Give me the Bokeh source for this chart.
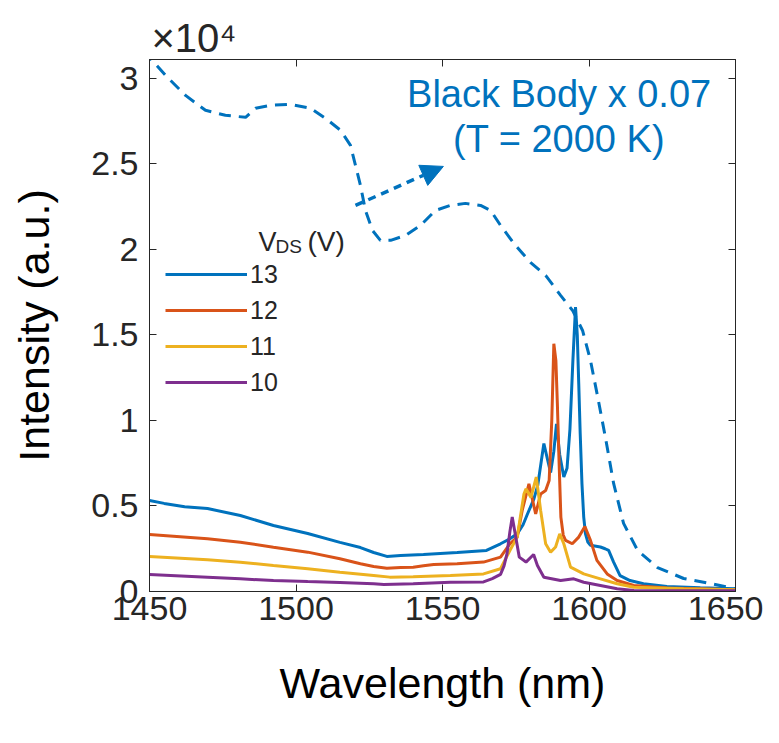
from bokeh.plotting import figure
from bokeh.models import (Range1d, FixedTicker, LinearAxis, Label, Arrow, NormalHead,
                          Legend, LegendItem, Title)
from bokeh.embed import file_html
from bokeh.resources import INLINE

# ---------------- data ----------------
wl_13 = [1450, 1455, 1462, 1469.8, 1481, 1492.3, 1504, 1515, 1522, 1526.5, 1531, 1535.7, 1543.5,
         1555, 1565, 1569.8, 1573, 1575.5, 1577.5, 1579, 1581.2, 1582.5, 1584.6, 1586, 1586.9,
         1588, 1588.9, 1590, 1591.4, 1592.5, 1593.5, 1594.5, 1595.4, 1596, 1596.5, 1597, 1597.6,
         1598.2, 1598.8, 1599.6, 1600.5, 1603.9, 1605.5, 1606.7, 1608.4, 1610.6, 1614, 1618.6,
         1626.6, 1638, 1650]
int_13 = [5320, 5150, 4950, 4850, 4440, 3860, 3390, 2870, 2570, 2280, 2050, 2100, 2160,
          2280, 2400, 2790, 3080, 3370, 3900, 4530, 5410, 6200, 8650, 7600, 6950,
          8200, 9800, 8000, 6690, 7200, 9500, 13500, 16630, 15000, 12150, 9220, 6290,
          4350, 3370, 2890, 2700, 2600, 2500, 2400, 1720, 930, 640, 450,
          290, 220, 160]

wl_12 = [1450, 1469.8, 1481, 1492.3, 1504, 1515, 1522, 1526.5, 1531, 1535.7, 1540, 1543.5, 1547,
         1555, 1564, 1569.8, 1573, 1575.5, 1577.2, 1579.5, 1581.8, 1583.5, 1585.2, 1586.4,
         1587.3, 1588, 1588.7, 1589.2, 1589.8, 1590.4, 1591.2, 1592, 1594.3, 1596.5, 1598.6,
         1600.5, 1602.7, 1606.2, 1609.6, 1615.3, 1626.6, 1650]
int_12 = [3330, 3080, 2880, 2590, 2300, 1910, 1620, 1460, 1360, 1400, 1420, 1500, 1580,
          1620, 1720, 2010, 2790, 3180, 4740, 6290, 4530, 5700, 5900, 6490,
          10000, 14480, 13500, 11000, 7500, 4350, 3300, 2990, 2790, 3180, 3800,
          2990, 1820, 1030, 640, 350, 210, 100]

wl_11 = [1450, 1469.8, 1481, 1492.3, 1504, 1515, 1526.5, 1532, 1540, 1552.7, 1564, 1569.8, 1573,
         1575.5, 1577.8, 1578.5, 1580.2, 1582, 1583.5, 1585.2, 1586.9, 1588.6, 1590, 1591.4,
         1593.7, 1598.2, 1603.9, 1609.6, 1615.3, 1632.3, 1650]
int_11 = [2050, 1850, 1710, 1520, 1330, 1130, 940, 840, 860, 930, 1030, 1330, 2400,
          3180, 5700, 6000, 5500, 6690, 4740, 2790, 2300, 2600, 3370, 2790,
          1420, 1030, 740, 450, 250, 160, 100]

wl_10 = [1450, 1469.8, 1481, 1492.3, 1504, 1515, 1526.5, 1530, 1540, 1552.7, 1564, 1567, 1569.8,
         1571, 1572, 1573, 1573.8, 1575, 1576.2, 1578.5, 1581.1, 1582.4, 1584.6, 1590.3, 1594.8,
         1598.2, 1603.9, 1609.6, 1615.3, 1650]
int_10 = [990, 840, 740, 640, 580, 530, 450, 410, 450, 540, 560, 750, 1000,
          1500, 2200, 3500, 4350, 3180, 2010, 1720, 2160, 1520, 830, 640, 740,
          540, 350, 160, 60, 40]

wl_bb = [1448, 1455.5, 1462.3, 1469.1, 1475.9, 1482.8, 1486.2, 1491.3, 1498.1, 1505, 1510.1,
         1515.2, 1518.6, 1520.3, 1522, 1523.7, 1526.1, 1528.8, 1532.3, 1537.4, 1542.5, 1547.6,
         1552.7, 1557.8, 1563, 1566.4, 1569.8, 1574.9, 1580, 1585.2, 1590.3, 1594.4, 1597.8,
         1600.5, 1603.2, 1605.6, 1608.4, 1611.8, 1616.6, 1623.4, 1632.3, 1641.5, 1650]
int_bb = [31600, 30170, 29000, 28130, 27840, 27720, 28250, 28420, 28480, 28250, 27660,
          26960, 26080, 24910, 23740, 22280, 21110, 20530, 20530, 20820, 21400, 22280,
          22570, 22690, 22570, 22280, 21400, 20230, 19240, 18480, 17310, 16430, 15260,
          13510, 11170, 9010, 6320, 3980, 2400, 1400, 760, 470, 150]

series_labels = ["13", "12", "11", "10"]
x_ticks = [1450, 1500, 1550, 1600, 1650]
y_ticks = [0, 5000, 10000, 15000, 20000, 25000, 30000]
y_tick_labels = ["0", "0.5", "1", "1.5", "2", "2.5", "3"]

# ---------------- style ----------------
FONT = "Liberation Sans"
AX = "#262626"
BLUE = "#0072BD"
colors = ["#0072BD", "#D95319", "#EDB120", "#7E2F8E"]

p = figure(width=763, height=727, output_backend="svg", toolbar_location=None,
           x_range=Range1d(1450, 1650), y_range=Range1d(0, 31100),
           min_border_left=149, min_border_right=28, min_border_top=59, min_border_bottom=136)
p.background_fill_color = "white"
p.border_fill_color = "white"
p.outline_line_color = AX
p.outline_line_width = 1
p.grid.visible = False

xt = FixedTicker(ticks=x_ticks)
yt = FixedTicker(ticks=y_ticks)
p.xaxis.ticker = xt
p.yaxis.ticker = yt
p.yaxis.major_label_overrides = {t: s for t, s in zip(y_ticks, y_tick_labels)}

for ax in (p.xaxis[0], p.yaxis[0]):
    ax.axis_line_color = AX
    ax.major_tick_line_color = AX
    ax.major_tick_in = 7
    ax.major_tick_out = 0
    ax.minor_tick_line_color = None
    ax.major_label_text_font = FONT
    ax.major_label_text_font_size = "34px"
    ax.major_label_text_color = AX
    ax.axis_label_text_font = FONT
    ax.axis_label_text_font_size = "43px"
    ax.axis_label_text_font_style = "normal"
    ax.axis_label_text_color = "black"

p.xaxis.axis_label = "Wavelength (nm)"
p.yaxis.axis_label = "Intensity (a.u.)"
p.xaxis.major_label_standoff = 5
p.yaxis.major_label_standoff = 11
p.xaxis.axis_label_standoff = 36
p.yaxis.axis_label_standoff = 30

top_ax = LinearAxis(ticker=xt, major_label_text_font_size="1px", major_label_text_color=None,
                    major_label_standoff=0, major_tick_in=7, major_tick_out=0,
                    minor_tick_line_color=None, axis_line_color=AX, major_tick_line_color=AX)
right_ax = LinearAxis(ticker=yt, major_label_text_font_size="1px", major_label_text_color=None,
                      major_label_standoff=0, major_tick_in=7, major_tick_out=0,
                      minor_tick_line_color=None, axis_line_color=AX, major_tick_line_color=AX)
p.add_layout(top_ax, "above")
p.add_layout(right_ax, "right")

# multiplier as a title above the frame
p.add_layout(Title(text="×10⁴", align="left", offset=2, standoff=0,
                   text_font=FONT, text_font_size="40px", text_font_style="normal",
                   text_color=AX), "above")

# black body
p.line(wl_bb, int_bb, line_color=BLUE, line_width=3, line_dash="12 8")

renderers = []
for wl, it, c in zip([wl_13, wl_12, wl_11, wl_10], [int_13, int_12, int_11, int_10], colors):
    renderers.append(p.line(wl, it, line_color=c, line_width=3))

legend = Legend(items=[LegendItem(label=l, renderers=[r]) for l, r in zip(series_labels, renderers)],
                location=(16, 191), orientation="vertical",
                border_line_color=None, background_fill_alpha=0,
                label_text_font=FONT, label_text_font_size="25px", label_text_color=AX,
                glyph_width=82, glyph_height=36, label_height=36, spacing=0,
                padding=0, margin=0, label_standoff=3)
p.add_layout(legend, "center")

# legend title V_DS (V)
p.add_layout(Label(x=1450, y=31100, x_offset=109, y_offset=-182, text="V",
                   text_font=FONT, text_font_size="27px", text_color=AX, text_baseline="alphabetic"))
p.add_layout(Label(x=1450, y=31100, x_offset=126, y_offset=-187, text="DS",
                   text_font=FONT, text_font_size="19px", text_color=AX, text_baseline="alphabetic"))
p.add_layout(Label(x=1450, y=31100, x_offset=158, y_offset=-182, text="(V)",
                   text_font=FONT, text_font_size="28px", text_color=AX, text_baseline="alphabetic"))

# annotation
p.add_layout(Label(x=1589.8, y=28250, y_offset=14, text="Black Body x 0.07", text_align="center",
                   text_baseline="alphabetic", text_font=FONT, text_font_size="38px", text_color=BLUE))
p.add_layout(Label(x=1589.8, y=25610, y_offset=14, text="(T = 2000 K)", text_align="center",
                   text_baseline="alphabetic", text_font=FONT, text_font_size="38px", text_color=BLUE))
p.add_layout(Arrow(x_start=1520.3, y_start=22570, x_end=1550.3, y_end=24850,
                   line_color=BLUE, line_width=3.5, line_dash="8 6",
                   end=NormalHead(size=22, fill_color=BLUE, line_color=BLUE)))

open("out.html", "w").write(file_html(p, INLINE))
